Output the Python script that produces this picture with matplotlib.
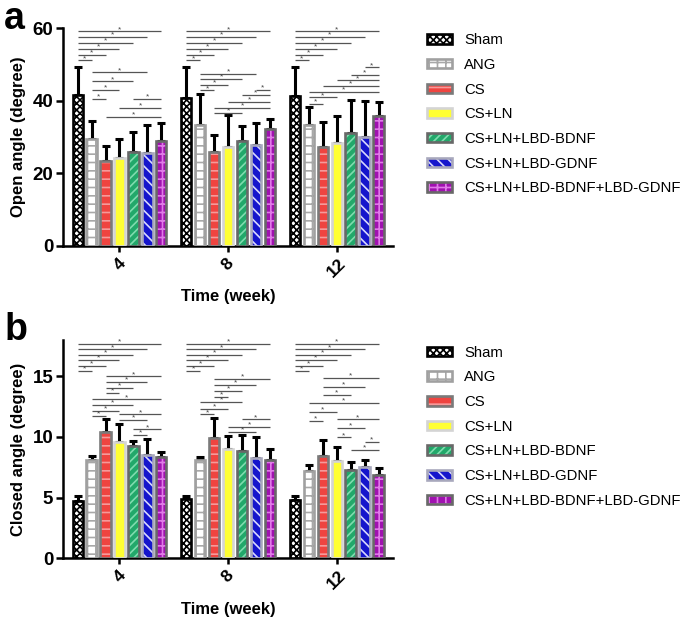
import matplotlib
matplotlib.use("Agg")
import matplotlib.pyplot as plt
from matplotlib.patches import Patch
import numpy as np

plt.rcParams['font.family'] = ['Liberation Sans', 'DejaVu Sans']
plt.rcParams['hatch.linewidth'] = 1.2

groups = ["4", "8", "12"]
series = ["Sham", "ANG", "CS", "CS+LN", "CS+LN+LBD-BDNF", "CS+LN+LBD-GDNF",
          "CS+LN+LBD-BDNF+LBD-GDNF"]

# Open angle means / upper error (mean+sd) per group, per series
open_mean = [
    [41.6, 29.4, 23.4, 24.3, 25.9, 25.5, 29.0],
    [40.8, 33.2, 25.7, 27.2, 28.8, 27.7, 32.2],
    [41.2, 33.3, 27.1, 28.4, 31.0, 30.1, 35.8],
]
open_top = [
    [49.3, 34.5, 27.5, 29.4, 31.3, 33.4, 33.7],
    [49.2, 41.8, 30.4, 36.0, 32.9, 33.9, 35.0],
    [49.3, 38.2, 34.0, 35.7, 40.2, 39.9, 39.6],
]
closed_mean = [
    [4.71, 8.10, 10.44, 9.56, 9.23, 8.54, 8.37],
    [4.85, 8.13, 9.92, 9.00, 8.82, 8.29, 8.07],
    [4.79, 7.22, 8.46, 8.04, 7.30, 7.50, 6.86],
]
closed_top = [
    [5.12, 8.43, 11.46, 11.10, 9.67, 9.83, 8.79],
    [5.15, 8.35, 11.60, 10.10, 10.17, 9.97, 9.00],
    [5.12, 7.69, 9.75, 9.15, 7.91, 8.07, 7.44],
]

# significance brackets: (group, bar_i, bar_j, height)
top_a = [(0, 6, 59.1), (0, 5, 57.5), (0, 4, 55.9), (0, 3, 54.2), (0, 2, 52.7), (0, 1, 51.1)]
open_brackets = [(g, i, j, y) for g in range(3) for (i, j, y) in top_a] + [
    (0, 1, 5, 47.8), (0, 1, 4, 45.3), (0, 1, 3, 42.9), (0, 1, 2, 40.4),
    (0, 4, 6, 40.5), (0, 3, 6, 38.0), (0, 2, 6, 35.5),
    (1, 1, 5, 47.4), (1, 1, 4, 46.0), (1, 1, 3, 44.4), (1, 1, 2, 42.8),
    (1, 5, 6, 43.0), (1, 4, 6, 41.6), (1, 3, 6, 39.6), (1, 2, 6, 38.1), (1, 2, 4, 36.6),
    (2, 5, 6, 49.2), (2, 4, 6, 47.2), (2, 3, 6, 45.6), (2, 2, 6, 44.0),
    (2, 1, 6, 42.4), (2, 1, 3, 40.9), (2, 1, 2, 39.1),
]
top_b = [(0, 6, 17.66), (0, 5, 17.22), (0, 4, 16.78), (0, 3, 16.34), (0, 2, 15.87), (0, 1, 15.43)]
closed_brackets = [(g, i, j, y) for g in range(3) for (i, j, y) in top_b] + [
    (0, 2, 6, 14.99), (0, 2, 5, 14.52), (0, 2, 4, 14.08), (0, 2, 3, 13.64),
    (0, 1, 6, 13.11), (0, 1, 4, 12.62), (0, 1, 3, 12.17), (0, 1, 2, 11.74),
    (0, 3, 6, 11.87), (0, 3, 5, 11.40), (0, 4, 6, 10.63), (0, 4, 5, 10.17),
    (1, 2, 6, 14.77), (1, 2, 5, 14.30), (1, 2, 4, 13.80), (1, 2, 3, 13.31),
    (1, 1, 4, 12.87), (1, 1, 3, 12.31), (1, 1, 2, 11.87),
    (1, 4, 6, 11.46), (1, 3, 6, 10.85), (1, 3, 5, 10.44),
    (2, 2, 6, 14.85), (2, 2, 5, 14.16), (2, 2, 4, 13.47), (2, 1, 6, 12.84),
    (2, 1, 3, 12.09), (2, 1, 2, 11.32), (2, 3, 6, 11.46), (2, 3, 5, 10.72),
    (2, 3, 4, 9.97), (2, 5, 6, 9.61), (2, 4, 6, 8.93),
]

# styles
faces = ['white', 'white', '#ef4440', '#ffff33', '#22a86a', '#1515cc', '#a012b0']
hatch_cols = ['black', '#a8a8a8', '#f59a9a', '#ffff99', '#80dcae', '#d8d8ff', '#e07ae8']
hatches = ['xxxxx', '++', '--', '', '////', '\\\\\\', '++']
edges = ['black', '#a0a0a0', '#7a7a7a', '#d4d4d4', '#686868', '#a8a8bc', '#686868']

pitch = 0.1284
bw = 0.095
elw = 1.9

fig = plt.figure(figsize=(6.85, 6.25), dpi=100)
ax_a = fig.add_axes([0.092, 0.607, 0.482, 0.348])
ax_b = fig.add_axes([0.092, 0.107, 0.482, 0.349])


def draw(ax, means, tops, brackets, ylim, yticks, ylabel, legend_y):
    x = np.arange(len(groups))
    means = np.array(means)
    tops = np.array(tops)
    for j in range(len(series)):
        xs = x + (j - 3) * pitch
        m = means[:, j]
        err = tops[:, j] - m
        ax.errorbar(xs, m, yerr=[np.zeros_like(err), err], fmt='none', ecolor='black',
                    elinewidth=2.2, capsize=3.2, capthick=2.2, zorder=2)
        ax.bar(xs, m, bw, color=faces[j], edgecolor=hatch_cols[j], hatch=hatches[j],
               linewidth=0, zorder=3)
        ax.bar(xs, m, bw, fill=False, edgecolor=edges[j], linewidth=elw, zorder=4)
    for (g, i, j, y) in brackets:
        x1 = x[g] + (i - 3) * pitch
        x2 = x[g] + (j - 3) * pitch
        ax.plot([x1, x2], [y, y], color='#555555', lw=0.9, zorder=5, solid_capstyle='butt')
        ax.annotate('*', ((x1 + x2) / 2, y), xytext=(0, -1.2), textcoords='offset points',
                    ha='center', va='bottom', fontsize=6, color='#444444', zorder=6)
    ax.set_xlim(-0.52, 2.52)
    ax.set_ylim(*ylim)
    ax.set_yticks(yticks)
    ax.set_xticks(x)
    ax.set_xticklabels(groups, rotation=45, ha='center', va='top', fontsize=12.5,
                       fontweight='bold')
    for lab in ax.get_yticklabels():
        lab.set_fontsize(13.5)
        lab.set_fontweight('bold')
    ax.spines['top'].set_visible(False)
    ax.spines['right'].set_visible(False)
    ax.spines['left'].set_linewidth(1.8)
    ax.spines['bottom'].set_linewidth(1.8)
    ax.tick_params(axis='y', width=1.8, length=5, pad=2)
    ax.tick_params(axis='x', width=1.8, length=4, pad=3)
    ax.set_ylabel(ylabel, fontsize=12, fontweight='bold', labelpad=5)
    ax.set_xlabel('Time (week)', fontsize=12, fontweight='bold', labelpad=7)
    handles = []
    for j in range(len(series)):
        h1 = Patch(facecolor=faces[j], edgecolor=hatch_cols[j], hatch=hatches[j], linewidth=0)
        h2 = Patch(fill=False, edgecolor=edges[j], linewidth=elw)
        handles.append((h1, h2))
    ax.legend(handles, series, loc='upper left', bbox_to_anchor=(0.623, legend_y),
              bbox_transform=fig.transFigure, frameon=False, fontsize=10.7,
              handlelength=1.7, handleheight=0.6, handletextpad=0.8,
              labelspacing=0.72, borderpad=0, borderaxespad=0)


draw(ax_a, open_mean, open_top, open_brackets, (0, 60), [0, 20, 40, 60],
     'Open angle (degree)', 0.947)
draw(ax_b, closed_mean, closed_top, closed_brackets, (0, 18), [0, 5, 10, 15],
     'Closed angle (degree)', 0.447)

fig.text(0.006, 0.998, 'a', fontsize=27, fontweight='bold', va='top', ha='left')
fig.text(0.006, 0.500, 'b', fontsize=27, fontweight='bold', va='top', ha='left')

fig.savefig('out.png', dpi=100)
